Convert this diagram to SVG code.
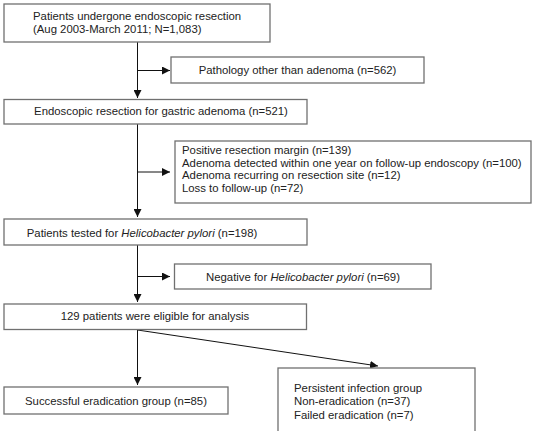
<svg xmlns="http://www.w3.org/2000/svg" width="537" height="431" viewBox="0 0 537 431">
<style>
.box{fill:#fff;stroke:#707070;stroke-width:1.3}
.t{font-family:"Liberation Sans",Arial,sans-serif;font-size:11.35px;fill:#222}
.m{text-anchor:middle}
.c{stroke:#111;stroke-width:1;fill:none}
</style>
<defs>
<marker id="ah" viewBox="0 0 8 8" refX="8" refY="4" markerWidth="8" markerHeight="8" markerUnits="userSpaceOnUse" orient="auto">
<path d="M0,0 L8,4 L0,8 Z" fill="#111"/>
</marker>
</defs>
<g id="connectors">
<path class="c" d="M137.5,42 V98" marker-end="url(#ah)"/>
<path class="c" d="M137.5,70.5 H170" marker-end="url(#ah)"/>
<path class="c" d="M137.5,124 V217" marker-end="url(#ah)"/>
<path class="c" d="M137.5,172 H170" marker-end="url(#ah)"/>
<path class="c" d="M137.5,245 V302" marker-end="url(#ah)"/>
<path class="c" d="M137.5,276.5 H170" marker-end="url(#ah)"/>
<path class="c" d="M137.5,330 V385" marker-end="url(#ah)"/>
<path class="c" d="M137.5,330 L378,366" marker-end="url(#ah)"/>
</g>
<g id="n1">
<rect class="box" x="4" y="4" width="266" height="38"/>
<text class="t" x="33" y="20">Patients undergone endoscopic resection</text>
<text class="t" x="33" y="33">(Aug 2003-March 2011; N=1,083)</text>
</g>
<g id="n2">
<rect class="box" x="171" y="57" width="253" height="26"/>
<text class="t m" x="297.5" y="74">Pathology other than adenoma (n=562)</text>
</g>
<g id="n3">
<rect class="box" x="4" y="99.5" width="303" height="24.5"/>
<text class="t m" x="161" y="115">Endoscopic resection for gastric adenoma (n=521)</text>
</g>
<g id="n4">
<rect class="box" x="175" y="141" width="356" height="62"/>
<text class="t" x="182" y="154">Positive resection margin (n=139)</text>
<text class="t" x="182" y="166.5">Adenoma detected within one year on follow-up endoscopy (n=100)</text>
<text class="t" x="182" y="179">Adenoma recurring on resection site (n=12)</text>
<text class="t" x="182" y="191.5">Loss to follow-up (n=72)</text>
</g>
<g id="n5">
<rect class="box" x="4" y="219" width="303" height="26"/>
<text class="t m" x="142" y="236.5">Patients tested for <tspan font-style="italic">Helicobacter pylori</tspan> (n=198)</text>
</g>
<g id="n6">
<rect class="box" x="174.5" y="264" width="256.5" height="25"/>
<text class="t m" x="303" y="280.5">Negative for <tspan font-style="italic">Helicobacter pylori</tspan> (n=69)</text>
</g>
<g id="n7">
<rect class="box" x="4" y="304" width="302.5" height="25.5"/>
<text class="t m" x="155" y="320">129 patients were eligible for analysis</text>
</g>
<g id="n8">
<rect class="box" x="4" y="387" width="224" height="27"/>
<text class="t m" x="116" y="405">Successful eradication group (n=85)</text>
</g>
<g id="n9">
<rect class="box" x="278" y="368" width="197" height="70"/>
<text class="t" x="294" y="391.5">Persistent infection group</text>
<text class="t" x="294" y="405">Non-eradication (n=37)</text>
<text class="t" x="294" y="418.5">Failed eradication (n=7)</text>
</g>
</svg>
